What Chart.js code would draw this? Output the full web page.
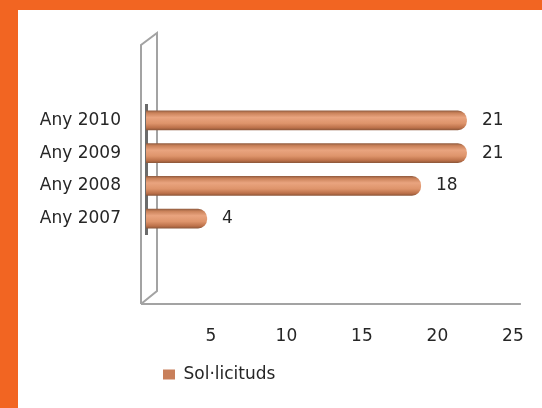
<!DOCTYPE html>
<html>
<head>
<meta charset="utf-8">
<script src="https://cdn.jsdelivr.net/npm/chart.js@4/dist/chart.umd.min.js"></script>
<style>
  html, body { margin: 0; padding: 0; }
  #frame { position: relative; width: 542px; height: 408px; background: #F26522; overflow: hidden; }
  #panel { position: absolute; left: 18px; top: 10px; right: 0; bottom: 0; background: #ffffff; }
  #c { position: absolute; left: 0; top: 0; }
</style>
</head>
<body>
<div id="frame">
  <div id="panel"></div>
  <canvas id="c" width="542" height="408"></canvas>
</div>
<script>
// ---- data ----
const categories = ['Any 2007', 'Any 2008', 'Any 2009', 'Any 2010'];
const seriesName = 'Sol·licituds';
const seriesValues = [4, 18, 21, 21];
const tickValues = [5, 10, 15, 20, 25];

const FONT = { family: "'DejaVu Sans', sans-serif", size: 17 };
const TEXT = '#262626';
const LINE = '#a3a3a3';
const LEGEND_FILL = '#C87F5A';

function barFill(c) {
  if (c.type !== 'data' || !c.chart.chartArea) return LEGEND_FILL;
  const ch = c.chart, a = ch.chartArea, yS = ch.scales.y;
  const cy = yS.getPixelForValue(c.dataIndex);
  const half = (a.bottom - a.top) / categories.length * 0.6 / 2;
  const g = ch.ctx.createLinearGradient(0, cy - half, 0, cy + half);
  g.addColorStop(0, '#8f5a3e');
  g.addColorStop(0.12, '#c98159');
  g.addColorStop(0.35, '#e9a47f');
  g.addColorStop(0.65, '#de946b');
  g.addColorStop(0.88, '#bb7049');
  g.addColorStop(1, '#8a5538');
  return g;
}

const wallPlugin = {
  id: 'wall',
  beforeDatasetsDraw(chart) {
    const a = chart.chartArea, ctx = chart.ctx;
    const x2 = chart.scales.x2;
    const fl = a.left - 5, bl = a.left + 11;
    const frontTop = a.top - 59, backTop = a.top - 71;
    const floorY = a.bottom + 69, backBottom = a.bottom + 56;
    ctx.save();
    ctx.strokeStyle = LINE;
    ctx.lineWidth = 2;
    ctx.beginPath();
    ctx.moveTo(fl, floorY);
    ctx.lineTo(fl, frontTop);
    ctx.lineTo(bl, backTop);
    ctx.lineTo(bl, backBottom);
    ctx.lineTo(fl, floorY);
    ctx.stroke();
    ctx.beginPath();
    ctx.moveTo(fl, floorY);
    ctx.lineTo(x2.getPixelForValue(25) + 8, floorY);
    ctx.stroke();
    // dark axis strip behind bars
    ctx.fillStyle = '#6b6b6b';
    ctx.fillRect(a.left - 1, a.top, 3, a.bottom - a.top);
    ctx.restore();
  }
};

const valueLabels = {
  id: 'valueLabels',
  afterDatasetsDraw(chart) {
    const ctx = chart.ctx;
    const meta = chart.getDatasetMeta(0);
    ctx.save();
    ctx.font = FONT.size + 'px ' + FONT.family;
    ctx.fillStyle = TEXT;
    ctx.textAlign = 'left';
    ctx.textBaseline = 'middle';
    meta.data.forEach((bar, i) => {
      ctx.fillText(String(seriesValues[i]), bar.x + 15, bar.y);
    });
    ctx.restore();
  }
};

new Chart(document.getElementById('c'), {
  type: 'bar',
  data: {
    labels: categories,
    datasets: [{
      label: seriesName,
      data: seriesValues,
      backgroundColor: barFill,
      borderWidth: 0,
      borderRadius: 9,
      borderSkipped: 'start',
      barPercentage: 0.6,
      categoryPercentage: 1.0,
      xAxisID: 'x'
    }]
  },
  options: {
    indexAxis: 'y',
    responsive: false,
    animation: false,
    events: [],
    layout: { padding: { left: 18, top: 104, right: 14, bottom: 15 } },
    scales: {
      x: { display: false, min: 0, max: 25 },
      x2: {
        position: 'bottom',
        min: 0.7, max: 26,
        grid: { display: false, drawTicks: false },
        border: { display: false },
        afterBuildTicks(scale) { scale.ticks = tickValues.map(v => ({ value: v })); },
        afterFit(scale) { scale.height = 114; scale.paddingLeft = 0; scale.paddingRight = 0; },
        ticks: { font: FONT, color: TEXT, padding: 91, maxRotation: 0, autoSkip: false }
      },
      y: {
        reverse: true,
        grid: { display: false, drawTicks: false },
        border: { display: false },
        afterFit(scale) { scale.width = 128; scale.paddingTop = 0; scale.paddingBottom = 0; },
        ticks: { font: FONT, color: TEXT, padding: 25 }
      }
    },
    plugins: {
      legend: {
        position: 'bottom',
        align: 'start',
        fullSize: false,
        labels: {
          font: FONT, color: TEXT, boxWidth: 12, boxHeight: 10, padding: 17,
          generateLabels(chart) {
            return Chart.defaults.plugins.legend.labels.generateLabels(chart).map(item => {
              item.fillStyle = LEGEND_FILL;
              item.strokeStyle = LEGEND_FILL;
              item.lineWidth = 0;
              return item;
            });
          }
        }
      },
      tooltip: { enabled: false }
    }
  },
  plugins: [wallPlugin, valueLabels]
});
</script>
</body>
</html>
